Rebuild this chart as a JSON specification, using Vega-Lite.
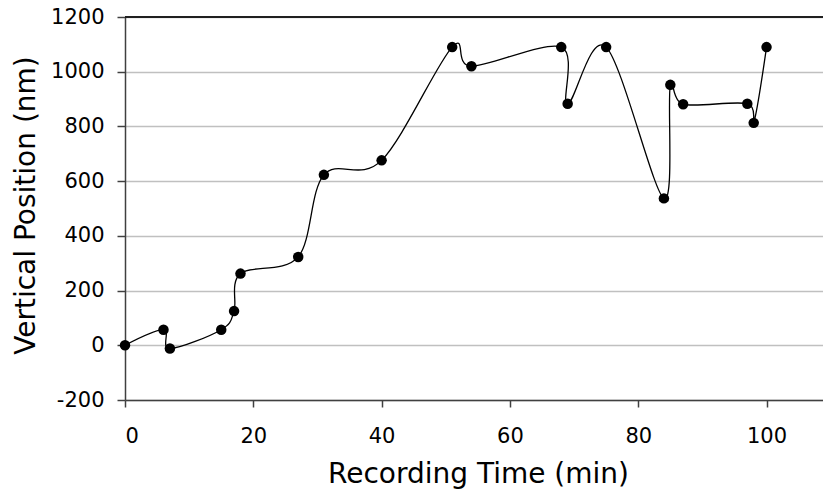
{
  "$schema": "https://vega.github.io/schema/vega-lite/v6.json",
  "width": 698,
  "height": 383,
  "autosize": {"type": "none"},
  "padding": {"left": 125, "top": 17, "right": 0, "bottom": 99},
  "background": "white",
  "config": {
    "view": {"stroke": null},
    "font": "DejaVu Sans",
    "axis": {
      "labelFont": "DejaVu Sans",
      "titleFont": "DejaVu Sans",
      "labelColor": "black",
      "titleColor": "black",
      "titleFontWeight": "normal",
      "domainColor": "#404040",
      "tickColor": "#404040",
      "domainWidth": 1.5,
      "tickWidth": 1.5,
      "labelExpr": "'' + datum.value"
    }
  },
  "data": {
    "values": [
      {"time": 0, "position": 0},
      {"time": 6, "position": 57},
      {"time": 7, "position": -12},
      {"time": 15, "position": 57},
      {"time": 17, "position": 125},
      {"time": 18, "position": 262},
      {"time": 27, "position": 323},
      {"time": 31, "position": 623},
      {"time": 40, "position": 676},
      {"time": 51, "position": 1090},
      {"time": 54, "position": 1020},
      {"time": 68, "position": 1090},
      {"time": 69, "position": 883},
      {"time": 75, "position": 1090},
      {"time": 84, "position": 537},
      {"time": 85, "position": 952},
      {"time": 87, "position": 881},
      {"time": 97, "position": 883},
      {"time": 98, "position": 813},
      {"time": 100, "position": 1090}
    ]
  },
  "encoding": {
    "x": {
      "field": "time",
      "type": "quantitative",
      "scale": {"domain": [0, 108.8], "nice": false, "zero": false},
      "axis": {
        "title": "Recording Time (min)",
        "values": [0, 20, 40, 60, 80, 100],
        "grid": false,
        "tickSize": 7,
        "labelFontSize": 21,
        "labelBaseline": "alphabetic",
        "labelPadding": 35,
        "titleFontSize": 28,
        "titleBaseline": "alphabetic",
        "titleX": 353,
        "titleY": 82
      }
    },
    "y": {
      "field": "position",
      "type": "quantitative",
      "scale": {"domain": [-200, 1200], "nice": false, "zero": false},
      "axis": {
        "title": "Vertical Position (nm)",
        "values": [-200, 0, 200, 400, 600, 800, 1000, 1200],
        "grid": true,
        "gridColor": "#c0c0c0",
        "gridWidth": 1.5,
        "tickSize": 8,
        "labelFontSize": 21,
        "labelPadding": 13,
        "titleFontSize": 28,
        "titleBaseline": "middle",
        "titleAlign": "center",
        "titleAngle": -90,
        "titleX": -99,
        "titleY": 188
      }
    }
  },
  "layer": [
    {
      "mark": {"type": "rule", "color": "#202020", "strokeWidth": 1.5},
      "encoding": {"y": {"datum": 1200}, "x": null}
    },
    {
      "mark": {"type": "line", "interpolate": "cardinal", "color": "black", "strokeWidth": 1.3}
    },
    {
      "mark": {"type": "point", "filled": true, "color": "black", "opacity": 1, "size": 110}
    }
  ]
}
